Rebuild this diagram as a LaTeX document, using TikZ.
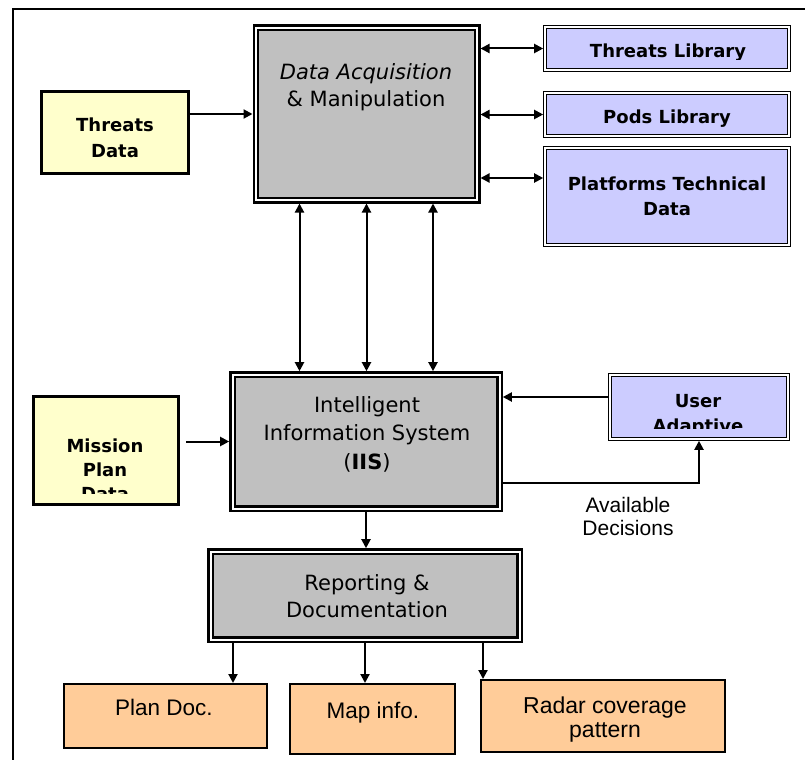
\documentclass[tikz,border=0pt]{standalone}
\usepackage{fontspec}
\setmainfont{DejaVu Sans}
\newfontfamily\arialfont{Liberation Sans}
\usetikzlibrary{arrows.meta}
\definecolor{boxgray}{HTML}{C0C0C0}
\definecolor{pale}{HTML}{FFFFCC}
\definecolor{lav}{HTML}{CCCCFF}
\definecolor{peach}{HTML}{FFCC99}
\begin{document}
\begin{tikzpicture}[x=1pt,y=-1pt,
  proc/.style={draw=black, fill=boxgray, line width=2.3pt, double=white,
    double distance=2pt, outer sep=3.3pt, inner sep=0pt},
  lib/.style={draw=black, fill=lav, line width=1.1pt, double=white,
    double distance=1.4pt, outer sep=1.8pt, inner sep=0pt},
  src/.style={draw=black, fill=pale, line width=3pt, outer sep=1.5pt, inner sep=0pt},
  outbox/.style={draw=black, fill=peach, line width=2pt, outer sep=1pt, inner sep=0pt},
  conn/.style={line width=2pt, -{Triangle[length=9pt,width=9pt]}},
  conn2/.style={line width=2pt, {Triangle[length=9pt,width=9pt]}-{Triangle[length=9pt,width=9pt]}},
  % multi-line texts are placed by the baseline of their last line
  txt/.style={anchor=base, align=center, inner sep=0pt},
  bold/.style={font=\fontsize{18}{25}\selectfont\bfseries},
  plain/.style={font=\fontsize{21}{27}\selectfont},
  arial/.style={font=\arialfont\fontsize{22.5}{24}\selectfont},
]
\useasboundingbox (0,0) rectangle (805,760);

% outer frame (top and left edges)
\draw[line width=1.5pt] (805,9) -- (13,9) -- (13,760);

% boxes
\node[src, minimum width=147pt, minimum height=82pt] (td) at (115,132.5) {};
\node[proc, minimum width=221.4pt, minimum height=172.4pt] (da) at (366.5,114) {};
\node[lib, minimum width=244pt, minimum height=43pt] (tl) at (667,48.5) {};
\node[lib, minimum width=244pt, minimum height=43pt] (pl) at (667,114.5) {};
\node[lib, minimum width=244pt, minimum height=97pt] (ptd) at (667,196.5) {};
\node[proc, minimum width=267pt, minimum height=134pt] (iis) at (366,441.5) {};
\node[src, minimum width=145pt, minimum height=108pt] (mpd) at (106,450.5) {};
\node[lib, minimum width=178pt, minimum height=64pt] (ua) at (699,407) {};
\node[proc, minimum width=309pt, minimum height=88pt] (rd) at (365,595.5) {};
\node[outbox, minimum width=203pt, minimum height=64pt] (pd) at (165.5,716) {};
\node[outbox, minimum width=165pt, minimum height=70pt] (mi) at (372.5,719) {};
\node[outbox, minimum width=244pt, minimum height=72pt] (rc) at (603,716) {};

% box texts
\node[txt, bold, font=\fontsize{18}{26}\selectfont\bfseries] at (115,157) {Threats\\Data};
\node[txt, plain] at (366,106) {{\itshape Data Acquisition}\\\& Manipulation};
\begin{scope}
  \clip (546,28) rectangle (788,60);
  \node[txt, bold] at (668,57) {Threats Library};
\end{scope}
\begin{scope}
  \clip (546,94) rectangle (788,126);
  \node[txt, bold] at (667,123) {Pods Library};
\end{scope}
\node[txt, bold] at (667,215) {Platforms Technical\\Data};
\node[txt, plain, font=\fontsize{21}{28.5}\selectfont] at (367,469)
  {Intelligent\\Information System\\(\textbf{IIS})};
\begin{scope}
  \clip (35,398) rectangle (177,493);
  \node[txt, bold, font=\fontsize{18}{24}\selectfont\bfseries] at (105,500) {Mission\\Plan\\Data};
\end{scope}
\begin{scope}
  \clip (611,376) rectangle (787,428);
  \node[txt, bold] at (698,432) {User\\Adaptive};
\end{scope}
\node[txt, plain] at (367,617) {Reporting \&\\Documentation};
\node[txt, arial] at (164,715) {Plan Doc.};
\node[txt, arial] at (373,718) {Map info.};
\node[txt, arial, font=\arialfont\fontsize{23}{24}\selectfont] at (605,737) {Radar coverage\\pattern};

% connectors
\draw[conn] (td.east |- da.west) -- (da.west);
\draw[conn2] (da.east |- tl.west) -- (tl.west);
\draw[conn2] (da.east |- pl.west) -- (pl.west);
\coordinate (p3) at ([yshift=18.5pt]ptd.west);
\draw[conn2] (da.east |- p3) -- (p3);

\coordinate (v1) at ([xshift=-67pt]da.south);
\coordinate (v3) at ([xshift=66.5pt]da.south);
\draw[conn2] (v1) -- (v1 |- iis.north);
\draw[conn2] (da.south) -- (da.south |- iis.north);
\draw[conn2] (v3) -- (v3 |- iis.north);

\draw[conn, shorten <=6pt] (mpd.east |- iis.west) -- (iis.west);
\coordinate (u1) at ([yshift=10pt]ua.west);
\draw[conn] (u1) -- (iis.east |- u1);
\coordinate (d1) at ([yshift=-41.5pt]iis.east);
\draw[conn] (d1) -| (ua.south);
\node[txt, font=\arialfont\fontsize{21}{23}\selectfont] (ad) at (628,535) {Available\\Decisions};

\draw[conn] (iis.south) -- (iis.south |- rd.north);
\coordinate (b1) at ([xshift=-132pt]rd.south);
\coordinate (b3) at ([xshift=118pt]rd.south);
\draw[conn] (b1) -- (b1 |- pd.north);
\draw[conn] (rd.south) -- (rd.south |- mi.north);
\draw[conn] (b3) -- (b3 |- rc.north);
\end{tikzpicture}
\end{document}
